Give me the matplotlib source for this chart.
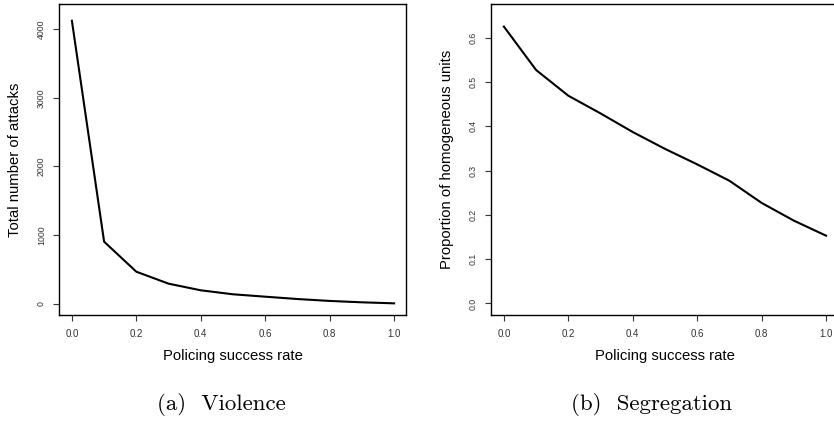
import matplotlib.pyplot as plt

# policing success rate (x) shared by both panels
success_rate = [0.0, 0.1, 0.2, 0.3, 0.4, 0.5, 0.6, 0.7, 0.8, 0.9, 1.0]
# (a) total number of attacks
attacks = [4125, 904, 466, 292, 195, 137, 102, 68, 40, 20, 5]
# (b) proportion of homogeneous units
homogeneous = [0.625, 0.527, 0.469, 0.429, 0.387, 0.349, 0.314, 0.277, 0.227, 0.187, 0.153]

x_ticks = [0.0, 0.2, 0.4, 0.6, 0.8, 1.0]
x_ticklabels = ['0.0', '0.2', '0.4', '0.6', '0.8', '1.0']
attack_ticks = [0, 1000, 2000, 3000, 4000]
attack_ticklabels = ['0', '1000', '2000', '3000', '4000']
homog_ticks = [0.0, 0.1, 0.2, 0.3, 0.4, 0.5, 0.6]
homog_ticklabels = ['0.0', '0.1', '0.2', '0.3', '0.4', '0.5', '0.6']
captions = ['(a)  Violence', '(b)  Segregation']

plt.rcParams['font.family'] = ['Liberation Sans', 'DejaVu Sans']

W, H = 834, 423
fig = plt.figure(figsize=(W / 100, H / 100), dpi=100)


def make_axes(left, right, top, bottom):
    return fig.add_axes([left / W, 1 - bottom / H, (right - left) / W, (bottom - top) / H])


def style(ax, yticks, yticklabels, ylabel):
    for s in ax.spines.values():
        s.set_linewidth(1.0)
        s.set_color('black')
    ax.set_xticks(x_ticks)
    ax.set_xticklabels(x_ticklabels)
    ax.set_yticks(yticks)
    ax.set_yticklabels(yticklabels, rotation=90, va='center')
    ax.tick_params(direction='out', length=4.3, width=0.8, colors='#333333')
    ax.tick_params(axis='x', labelsize=7, pad=6)
    ax.tick_params(axis='y', labelsize=6.3, pad=5)
    ax.set_xlabel('Policing success rate', fontsize=10.7, va='center')
    ax.set_ylabel(ylabel, fontsize=10.7, va='center')
    # label positions in axes units (box is 347 x 311 px)
    ax.xaxis.set_label_coords(0.5, -41 / 311)
    ax.yaxis.set_label_coords(-44 / 347, 0.5)


ax1 = make_axes(59, 406, 4, 315)
ax1.plot(success_rate, attacks, color='black', lw=1.5)
ax1.set_xlim(-0.04, 1.037)
ax1.set_ylim(-165, 4369)
style(ax1, attack_ticks, attack_ticklabels, 'Total number of attacks')

ax2 = make_axes(491, 838, 4, 315)
ax2.plot(success_rate, homogeneous, color='black', lw=1.5)
ax2.set_xlim(-0.04, 1.037)
ax2.set_ylim(-0.026, 0.676)
style(ax2, homog_ticks, homog_ticklabels, 'Proportion of homogeneous units')

fig.text(157 / W, 1 - 410 / H, captions[0], fontfamily='cmr10', fontsize=16.5,
         ha='left', va='baseline')
fig.text(571 / W, 1 - 410 / H, captions[1], fontfamily='cmr10', fontsize=16.5,
         ha='left', va='baseline')

fig.savefig('out.png', dpi=100)
